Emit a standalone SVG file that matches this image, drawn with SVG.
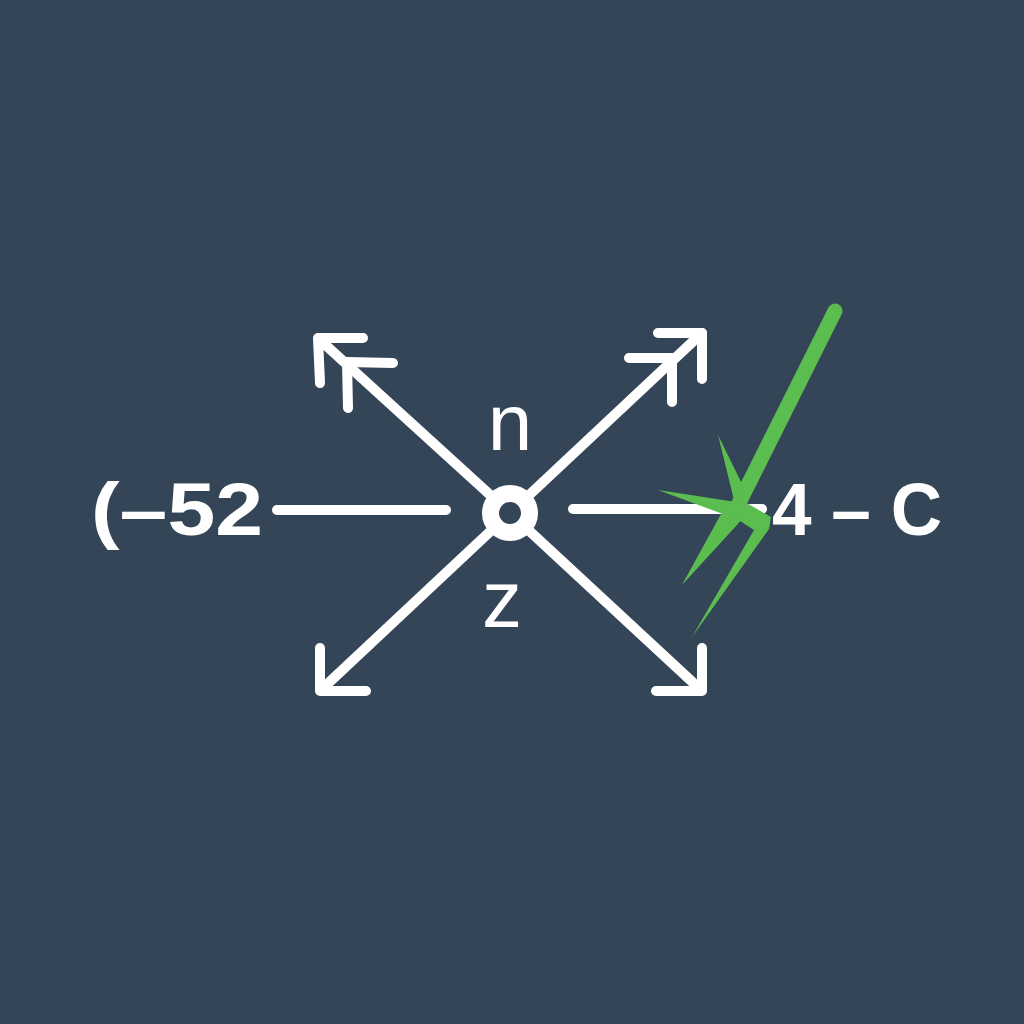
<svg xmlns="http://www.w3.org/2000/svg" width="1024" height="1024" viewBox="0 0 1024 1024">
<style>
.ln{stroke:#ffffff;stroke-width:10;stroke-linecap:round;stroke-linejoin:round;fill:none}
.big{font-family:"Liberation Sans",Arial,sans-serif;font-weight:bold;font-size:75px;fill:#ffffff}
.lbl{font-family:"Liberation Sans",Arial,sans-serif;font-size:80px;fill:#ffffff;text-anchor:middle}
.gr{fill:#5BBD4F}
</style>
<rect width="1024" height="1024" fill="#344558"/>
<g id="connectors">
<line class="ln" x1="277" y1="510" x2="446" y2="510"/>
<line class="ln" x1="573" y1="509" x2="762" y2="509"/>
<line class="ln" x1="510" y1="513" x2="320" y2="340"/>
<path class="ln" d="M363,338 L318,338 L320,383"/>
<path class="ln" d="M393,363 L347,362 L348,408"/>
<line class="ln" x1="510" y1="513" x2="702" y2="333"/>
<path class="ln" d="M658,333 L702,333 L702,379"/>
<path class="ln" d="M629,358 L672,358 L672,402"/>
<line class="ln" x1="510" y1="513" x2="321" y2="690"/>
<path class="ln" d="M320,648 L320,691 L366,691"/>
<line class="ln" x1="510" y1="513" x2="701" y2="690"/>
<path class="ln" d="M702,648 L702,691 L656,691"/>
</g>
<g id="hub">
<circle cx="510" cy="513" r="19.5" fill="#344558" stroke="#ffffff" stroke-width="17"/>
</g>
<g id="label-n"><text class="lbl" x="510" y="450">n</text></g>
<g id="label-z"><text class="lbl" x="502" y="627">z</text></g>
<g id="label-left"><text class="big" x="91" y="535" textLength="172" lengthAdjust="spacingAndGlyphs">(–52</text></g>
<g id="label-right"><text class="big" x="772" y="535" textLength="170" lengthAdjust="spacingAndGlyphs">4 – C</text></g>
<g id="check">
<line x1="835" y1="311" x2="739" y2="503" stroke="#5BBD4F" stroke-width="15" stroke-linecap="round"/>
<polygon class="gr" points="718,435 744,488 734,500"/>
<polygon class="gr" points="658,490 736,502 731,517"/>
<polygon class="gr" points="726,505 747,514 682,585"/>
<polygon class="gr" points="736,497 771,517 769,529 692,637 754,530 734,517"/>
</g>
</svg>
